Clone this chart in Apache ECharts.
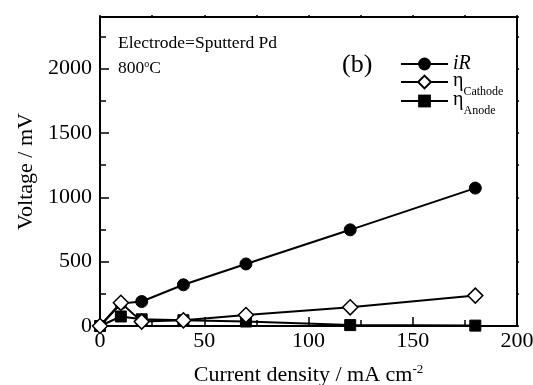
<!DOCTYPE html>
<html><head><meta charset="utf-8">
<script src="https://cdn.jsdelivr.net/npm/echarts@6/dist/echarts.min.js"></script>
<style>html,body{margin:0;padding:0;background:#fff}#c{width:533px;height:385px}</style>
</head><body><div id="c"></div>
<script>
var xCurrent = [0, 10, 20, 40, 70, 120, 180];
var iR = [0, 175, 190, 320, 482, 747, 1071];
var etaCathode = [0, 181, 34, 44, 85, 145, 236];
var etaAnode = [0, 74, 52, 45, 35, 7, 3];
var xTicks = [0, 50, 100, 150, 200];
var yTicks = [0, 500, 1000, 1500, 2000];
var seriesNames = ['iR', 'ηCathode', 'ηAnode'];

var FONT = 'Liberation Serif';
function pairs(ys){ return xCurrent.map(function(x,i){return [x, ys[i]];}); }

var chart = echarts.init(document.getElementById('c'), null, {renderer:'canvas'});
var axLine = {show:true, onZero:false, lineStyle:{color:'#000', width:2}};
function tk(len, inside){ return {show:true, inside:inside, length:len, lineStyle:{color:'#000', width:1.5}}; }

var xBottom = {type:'value', position:'bottom', min:0, max:200, interval:50,
  axisLine:axLine, axisTick:tk(9,true),
  minorTick:{show:true, splitNumber:2, length:6, lineStyle:{color:'#000', width:1.5}},
  axisLabel:{color:'#000', fontFamily:FONT, fontSize:22, margin:4},
  splitLine:{show:false}, minorSplitLine:{show:false},
  name:'Current density / mA cm{sup|-2}', nameLocation:'middle', nameGap:37,
  nameTextStyle:{color:'#000', fontFamily:FONT, fontSize:22,
    rich:{sup:{fontSize:13, fontFamily:FONT, color:'#000', padding:[0,0,12,0]}}}};
var xTop = {type:'value', position:'top', min:0, max:200, interval:25,
  axisLine:axLine, axisTick:tk(2,false), axisLabel:{show:false}, splitLine:{show:false}};

var yLeft = {type:'value', position:'left', min:0, max:2400, interval:500,
  axisLine:axLine, axisTick:tk(9,true),
  axisLabel:{color:'#000', fontFamily:FONT, fontSize:22, margin:8,
    formatter:function(v){ return yTicks.indexOf(v)>=0 ? String(v) : ''; }},
  splitLine:{show:false},
  name:'Voltage / mV', nameLocation:'middle', nameGap:63,
  nameTextStyle:{color:'#000', fontFamily:FONT, fontSize:22}};
var yLeftMinor = {type:'value', position:'left', offset:0, min:0, max:2400, interval:250,
  axisLine:{show:false, onZero:false}, axisTick:tk(6,true), axisLabel:{show:false}, splitLine:{show:false}};
var yRight = {type:'value', position:'right', offset:0, min:0, max:2400, interval:250,
  axisLine:axLine, axisTick:tk(2,false), axisLabel:{show:false}, splitLine:{show:false}};

var legendRich = {
  it:{fontStyle:'italic', fontFamily:FONT, fontSize:20, color:'#000', lineHeight:18},
  eta:{fontFamily:FONT, fontSize:20, color:'#000', verticalAlign:'bottom', lineHeight:18},
  sub:{fontFamily:FONT, fontSize:12, color:'#000', verticalAlign:'bottom', lineHeight:18, padding:[0,0,-7,0]}
};
function legendFor(name, top){
  return {orient:'vertical', left:400, top:top, itemWidth:47, itemHeight:16, padding:0,
    data:[name],
    textStyle:{color:'#000', fontFamily:FONT, fontSize:19, rich:legendRich},
    formatter:function(n){
      if(n==='iR') return '{it|iR}';
      return '{eta|η}{sub|' + n.slice(1) + '}';
    }};
}

var option = {
  animation:false,
  backgroundColor:'#fff',
  grid:{left:100, right:16, top:17, bottom:59, containLabel:false, outerBoundsMode:'none'},
  xAxis:[xBottom, xTop],
  yAxis:[yLeft, yRight, yLeftMinor],
  legend:[legendFor(seriesNames[0], 54), legendFor(seriesNames[1], 71), legendFor(seriesNames[2], 90)],
  graphic:[
    {type:'text', left:118, top:34, style:{text:'Electrode=Sputterd Pd', font:'17.5px "Liberation Serif"', fill:'#000'}},
    {type:'text', left:118, top:59, style:{text:'800{s|o}C', font:'17.5px "Liberation Serif"', fill:'#000',
      rich:{s:{fontSize:10, fontFamily:FONT, padding:[0,0,9,0]}}}},
    {type:'text', left:342, top:52, style:{text:'(b)', font:'26px "Liberation Serif"', fill:'#000'}}
  ],
  series:[
    {name:seriesNames[0], type:'line', data:pairs(iR), symbol:'circle', symbolSize:12, z:2,
      lineStyle:{color:'#000', width:2}, itemStyle:{color:'#000', borderColor:'#000'}},
    {name:seriesNames[2], type:'line', data:pairs(etaAnode), symbol:'rect', symbolSize:11, z:3,
      lineStyle:{color:'#000', width:2}, itemStyle:{color:'#000', borderColor:'#000'}},
    {name:seriesNames[1], type:'line', data:pairs(etaCathode), symbol:'diamond', symbolSize:15, z:4,
      lineStyle:{color:'#000', width:2}, itemStyle:{color:'#fff', borderColor:'#000', borderWidth:1.5}}
  ]
};
chart.setOption(option);
</script></body></html>
